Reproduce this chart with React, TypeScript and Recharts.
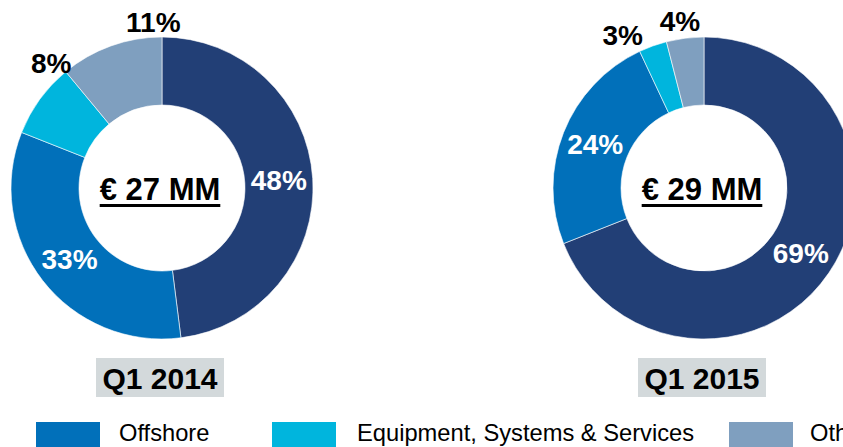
import React from 'react';
import { PieChart, Pie, Cell } from 'recharts';

// ---- data ----
const SEGMENTS = ['Onshore', 'Offshore', 'Equipment, Systems & Services', 'Others'];
const VALUES_Q1_2014 = [48, 33, 8, 11];
const VALUES_Q1_2015 = [69, 24, 3, 4];
const PERIODS = ['Q1 2014', 'Q1 2015'];
const TOTALS = ['€ 27 MM', '€ 29 MM'];
const LEGEND_ITEMS = ['Offshore', 'Equipment, Systems & Services', 'Others'];

// ---- styles ----
const COLORS: Record<string, string> = {
  Onshore: '#223F76',
  Offshore: '#0170BA',
  'Equipment, Systems & Services': '#00B5DD',
  Others: '#7F9FBF',
};
const FONT = "'Liberation Sans', Arial, Helvetica, sans-serif";
const W = 843;
const H = 447;
const CY = 188;
const CX = [162, 704];
const INNER = 83;
const OUTER = 151;
// angular nudges (degrees, clockwise) for the small outside labels
const OUTSIDE_SHIFT = [
  [0, 0, 12.4, 16.8],
  [0, 0, -8.2, -1],
];
const OUTSIDE_GAP = [
  [0, 0, 16, 15],
  [0, 0, 22, 17],
];
const LEGEND_LEFT = [36, 272, 729];
const LEGEND_GAP = [19, 21, 17];

const makeLabel = (pieIdx: number) => (props: any) => {
  const { cx, cy, midAngle, innerRadius, outerRadius, value, index } = props;
  const outside = value < 15;
  const RAD = Math.PI / 180;
  const ang = midAngle - (outside ? OUTSIDE_SHIFT[pieIdx][index] : 0);
  const r = outside ? outerRadius + OUTSIDE_GAP[pieIdx][index] : (innerRadius + outerRadius) / 2;
  const x = cx + r * Math.cos(ang * RAD);
  const y = cy - r * Math.sin(ang * RAD);
  return (
    <text
      key={`lbl-${pieIdx}-${index}`}
      x={x}
      y={y}
      fill={outside ? '#000000' : '#ffffff'}
      textAnchor="middle"
      dominantBaseline="central"
      fontSize={28}
      fontWeight="bold"
      fontFamily={FONT}
    >
      {value}%
    </text>
  );
};

export default function App() {
  const series = [VALUES_Q1_2014, VALUES_Q1_2015];
  return (
    <div
      style={{
        position: 'absolute',
        left: 0,
        top: 0,
        width: W,
        height: H,
        overflow: 'hidden',
        background: '#ffffff',
        fontFamily: FONT,
      }}
    >
      <PieChart width={W} height={H} margin={{ top: 0, right: 0, bottom: 0, left: 0 }}>
        {series.map((vals, p) => (
          <Pie
            key={PERIODS[p]}
            data={SEGMENTS.map((name, i) => ({ name, value: vals[i] }))}
            dataKey="value"
            nameKey="name"
            cx={CX[p]}
            cy={CY}
            innerRadius={INNER}
            outerRadius={OUTER}
            startAngle={90}
            endAngle={-270}
            stroke="#ffffff"
            strokeWidth={0.6}
            labelLine={false}
            label={makeLabel(p)}
            isAnimationActive={false}
          >
            {SEGMENTS.map((name) => (
              <Cell key={name} fill={COLORS[name]} />
            ))}
          </Pie>
        ))}
      </PieChart>

      {TOTALS.map((t, p) => (
        <div
          key={t}
          style={{
            position: 'absolute',
            left: CX[p] - 2 - 100,
            width: 200,
            top: 174,
            fontSize: 31,
            lineHeight: '31px',
            fontWeight: 'bold',
            textAlign: 'center',
            color: '#000',
            textDecoration: 'underline',
            textDecorationThickness: '3px',
            textUnderlineOffset: '4px',
            whiteSpace: 'nowrap',
          }}
        >
          {t}
        </div>
      ))}

      {PERIODS.map((q, p) => (
        <div
          key={q}
          style={{
            position: 'absolute',
            left: CX[p] - 66,
            top: 358,
            width: 128,
            height: 39,
            background: '#D3D9DB',
            fontSize: 30,
            lineHeight: '39px',
            paddingTop: 1,
            boxSizing: 'border-box',
            fontWeight: 'bold',
            textAlign: 'center',
            color: '#000',
            whiteSpace: 'nowrap',
          }}
        >
          {q}
        </div>
      ))}

      {LEGEND_ITEMS.map((name, i) => (
        <div
          key={name}
          style={{
            position: 'absolute',
            left: LEGEND_LEFT[i],
            top: 422,
            height: 25,
            display: 'flex',
            alignItems: 'flex-start',
            whiteSpace: 'nowrap',
          }}
        >
          <div style={{ width: 64, height: 25, background: COLORS[name], flex: '0 0 auto' }} />
          <div
            style={{
              marginLeft: LEGEND_GAP[i],
              fontSize: 23.7,
              lineHeight: '24px',
              marginTop: -1,
              color: '#000',
            }}
          >
            {name}
          </div>
        </div>
      ))}
    </div>
  );
}
